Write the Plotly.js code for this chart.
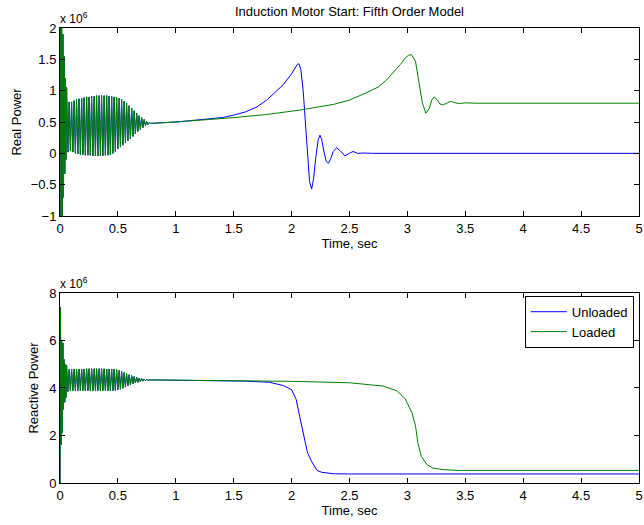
<!DOCTYPE html>
<html>
<head>
<meta charset="utf-8">
<script src="https://cdn.plot.ly/plotly-3.0.1.min.js"></script>
<style>html,body{margin:0;padding:0;background:#fff;}#chart{width:644px;height:525px;}</style>
</head>
<body>
<div id="chart"></div>
<script>
// Values in units of 10^6
// Start-up oscillation (both cases coincide)
const oscTime = [0, 0.004, 0.009, 0.014, 0.019, 0.025, 0.030, 0.036, 0.041, 0.046, 0.051,
  0.057, 0.068, 0.079, 0.090, 0.100, 0.111, 0.122, 0.133, 0.143, 0.154, 0.165, 0.176, 0.187, 0.198,
  0.208, 0.219, 0.230, 0.241, 0.251, 0.262, 0.273, 0.284, 0.295, 0.306, 0.316, 0.327, 0.338, 0.349,
  0.359, 0.370, 0.381, 0.392, 0.403, 0.414, 0.424, 0.435, 0.446, 0.457, 0.467, 0.478, 0.489, 0.500,
  0.511, 0.522, 0.532, 0.543, 0.554, 0.565, 0.575, 0.586, 0.597, 0.608, 0.619, 0.630, 0.640, 0.651,
  0.662, 0.673, 0.683, 0.694, 0.705, 0.716, 0.727, 0.738, 0.748, 0.759, 0.770, 0.781];
const oscReal = [0, 2.4, -1.2, 2.2, -1.1, 1.9, -0.7, 1.55, -0.33, 1.2, -0.1,
  1.05, 0.02, 0.82, 0.04, 0.82, 0.02, 0.84, 0.0, 0.86, -0.01, 0.87, -0.02, 0.88, -0.02,
  0.89, -0.03, 0.90, -0.03, 0.90, -0.03, 0.91, -0.04, 0.91, -0.04, 0.92, -0.04, 0.92, -0.04,
  0.92, -0.04, 0.92, -0.03, 0.92, -0.03, 0.91, -0.02, 0.91, 0.0, 0.90, 0.03, 0.89, 0.07,
  0.88, 0.10, 0.86, 0.13, 0.83, 0.17, 0.80, 0.20, 0.76, 0.23, 0.72, 0.27, 0.68, 0.31,
  0.64, 0.35, 0.60, 0.38, 0.57, 0.41, 0.54, 0.44, 0.51, 0.46, 0.49, 0.48];
const oscReactive = [0, 7.4, 1.6, 6.0, 2.1, 5.9, 3.1, 5.2, 3.4, 5.0, 3.6,
  4.95, 3.85, 4.78, 3.88, 4.80, 3.89, 4.80, 3.89, 4.80, 3.89, 4.80, 3.89, 4.80, 3.89,
  4.80, 3.89, 4.81, 3.89, 4.81, 3.89, 4.81, 3.89, 4.81, 3.89, 4.81, 3.89, 4.81, 3.89,
  4.81, 3.89, 4.81, 3.89, 4.80, 3.89, 4.80, 3.89, 4.80, 3.89, 4.79, 3.90, 4.77, 3.92,
  4.74, 3.95, 4.70, 3.99, 4.65, 4.04, 4.60, 4.09, 4.56, 4.13, 4.52, 4.17, 4.48, 4.21,
  4.45, 4.24, 4.42, 4.27, 4.40, 4.29, 4.38, 4.31, 4.36, 4.33, 4.35, 4.34];

// After the start-up oscillation
const realUnloadedTime = [0.8, 1.0, 1.2, 1.4, 1.5, 1.6, 1.7, 1.785, 1.85, 1.93, 2.0, 2.03, 2.05, 2.064, 2.08,
  2.10, 2.12, 2.14, 2.155, 2.173, 2.19, 2.21, 2.23, 2.245, 2.26, 2.28, 2.30, 2.317, 2.335, 2.36,
  2.389, 2.42, 2.46, 2.50, 2.53, 2.57, 2.62, 2.7, 5.0];
const realUnloaded = [0.48, 0.50, 0.53, 0.57, 0.61, 0.66, 0.74, 0.85, 0.96, 1.10, 1.27, 1.37, 1.42, 1.43, 1.34,
  1.0, 0.45, -0.1, -0.45, -0.57, -0.4, -0.05, 0.22, 0.29, 0.22, 0.02, -0.13, -0.16, -0.10, 0.03,
  0.09, 0.04, -0.04, 0.0, 0.03, 0.0, 0.005, 0.0, 0.0];
const realLoadedTime = [0.8, 1.0, 1.2, 1.5, 1.785, 2.07, 2.36, 2.5, 2.65, 2.75, 2.82, 2.9, 2.94, 2.98, 3.01,
  3.035, 3.07, 3.10, 3.13, 3.16, 3.19, 3.21, 3.23, 3.26, 3.28, 3.305, 3.34, 3.374, 3.41, 3.44, 3.5, 3.6, 5.0];
const realLoaded = [0.48, 0.50, 0.525, 0.57, 0.62, 0.69, 0.78, 0.85, 0.97, 1.06, 1.17, 1.33, 1.42, 1.52, 1.565,
  1.575, 1.47, 1.13, 0.80, 0.64, 0.72, 0.85, 0.90, 0.85, 0.79, 0.77, 0.80, 0.83, 0.81, 0.795, 0.805, 0.80, 0.80];
const reactiveUnloadedTime = [0.8, 1.38, 1.6, 1.81, 1.93, 2.0, 2.04, 2.07, 2.10, 2.136, 2.17, 2.2, 2.22, 2.26, 2.36, 2.5, 5.0];
const reactiveUnloaded = [4.34, 4.31, 4.29, 4.24, 4.10, 3.93, 3.51, 2.80, 2.10, 1.30, 0.93, 0.65, 0.53, 0.45, 0.39, 0.38, 0.38];
const reactiveLoadedTime = [0.8, 1.38, 2.0, 2.5, 2.79, 2.91, 2.98, 3.04, 3.07, 3.09, 3.12, 3.17, 3.22, 3.31, 3.45, 5.0];
const reactiveLoaded = [4.34, 4.31, 4.28, 4.22, 4.08, 3.88, 3.55, 2.95, 2.40, 1.70, 1.12, 0.77, 0.63, 0.56, 0.53, 0.53];

const seriesNames = ['Unloaded', 'Loaded'];
const xTicks = [0, 0.5, 1, 1.5, 2, 2.5, 3, 3.5, 4, 4.5, 5];
const realTicks = [-1, -0.5, 0, 0.5, 1, 1.5, 2];
const reactiveTicks = [0, 2, 4, 6, 8];

const blue = '#0000ff', green = '#008000';
const font = 'Liberation Sans, Arial, Helvetica, sans-serif';
const fs = 13;

const traces = [
  {x: oscTime.concat(realUnloadedTime), y: oscReal.concat(realUnloaded), name: seriesNames[0], color: blue, xa: 'x', ya: 'y', show: false},
  {x: oscTime.concat(realLoadedTime), y: oscReal.concat(realLoaded), name: seriesNames[1], color: green, xa: 'x', ya: 'y', show: false},
  {x: oscTime.concat(reactiveUnloadedTime), y: oscReactive.concat(reactiveUnloaded), name: seriesNames[0], color: blue, xa: 'x2', ya: 'y2', show: true},
  {x: oscTime.concat(reactiveLoadedTime), y: oscReactive.concat(reactiveLoaded), name: seriesNames[1], color: green, xa: 'x2', ya: 'y2', show: true}
].map(d => ({x: d.x, y: d.y, type: 'scatter', mode: 'lines', name: d.name,
  line: {color: d.color, width: 1}, xaxis: d.xa, yaxis: d.ya, showlegend: d.show, hoverinfo: 'skip'}));

const axisBase = {showline: true, linecolor: '#000', linewidth: 1, mirror: 'ticks', ticks: 'inside',
  ticklen: 5, tickcolor: '#000', showgrid: false, zeroline: false,
  tickfont: {family: font, size: fs, color: '#000'}};

const layout = {
  width: 644, height: 525,
  margin: {l: 60, r: 5, t: 28, b: 42},
  paper_bgcolor: '#fff', plot_bgcolor: '#fff',
  font: {family: font, color: '#000'},
  title: {text: 'Induction Motor Start: Fifth Order Model', font: {family: font, size: fs, color: '#000'},
    x: 0.5, xref: 'paper', y: 1 - 11/525, yref: 'container', yanchor: 'middle'},
  xaxis: Object.assign({}, axisBase, {domain: [0, 1], range: [0, 5], tickvals: xTicks, anchor: 'y',
    title: {text: 'Time, sec', font: {family: font, size: fs}, standoff: 1}}),
  yaxis: Object.assign({}, axisBase, {domain: [0.5868, 1], range: [-1, 2], tickvals: realTicks, anchor: 'x',
    title: {text: 'Real Power', font: {family: font, size: fs}, standoff: 6}}),
  xaxis2: Object.assign({}, axisBase, {domain: [0, 1], range: [0, 5], tickvals: xTicks, anchor: 'y2',
    title: {text: 'Time, sec', font: {family: font, size: fs}, standoff: 1}}),
  yaxis2: Object.assign({}, axisBase, {domain: [0, 0.4176], range: [0, 8], tickvals: reactiveTicks, anchor: 'x2',
    title: {text: 'Reactive Power', font: {family: font, size: fs}, standoff: 7}}),
  legend: {x: 0.991, xref: 'paper', xanchor: 'right', y: 0.4115, yref: 'paper', yanchor: 'top',
    bgcolor: '#fff', bordercolor: '#000', borderwidth: 1, font: {family: font, size: fs},
    tracegroupgap: 0, itemwidth: 36},
  annotations: [
    {text: 'x 10<sup>6</sup>', xref: 'x domain', yref: 'y domain', x: 0, y: 1, xanchor: 'left', yanchor: 'bottom',
      showarrow: false, font: {family: font, size: 12}, xshift: -2},
    {text: 'x 10<sup>6</sup>', xref: 'x2 domain', yref: 'y2 domain', x: 0, y: 1, xanchor: 'left', yanchor: 'bottom',
      showarrow: false, font: {family: font, size: 12}, xshift: -2}
  ]
};
Plotly.newPlot('chart', traces, layout, {staticPlot: true, displayModeBar: false});
</script>
</body>
</html>
